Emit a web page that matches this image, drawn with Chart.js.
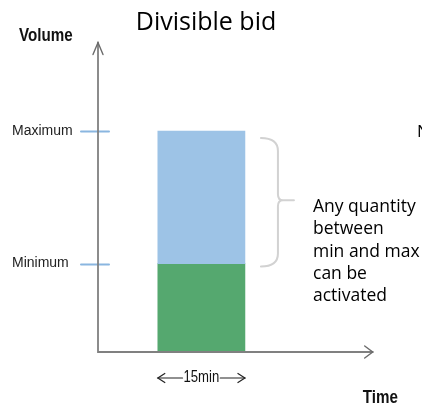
<!DOCTYPE html>
<html>
<head>
<meta charset="utf-8">
<script src="https://cdn.jsdelivr.net/npm/chart.js@4/dist/chart.umd.min.js"></script>
<style>
  html, body { margin: 0; padding: 0; background: #ffffff; }
  #wrap { width: 422px; height: 406px; position: relative; }
</style>
</head>
<body>
<div id="wrap"><canvas id="bid" width="422" height="406"></canvas></div>
<script>
// Volume levels of the bid (arbitrary volume units)
const volumeTickValues = [2, 5];
const volumeTickLabels = ['Minimum', 'Maximum'];
const minimumVolume = 2;
const maximumVolume = 5;
const volumeAxisMax = 7;

// Delivery period on the time axis, in minutes
const periodCentre = 17.8;
const periodLength = 15;
const timeAxisEnd = 47.3;
const timeScaleMax = 52;
const periodLabel = '15min';

const noteLines = ['Any quantity', 'between', 'min and max', 'can be', 'activated'];

const ARIAL = "'Liberation Sans', Arial, sans-serif";
const SANS = "'Open Sans', 'Noto Sans', sans-serif";

function segment(ctx, x1, y1, x2, y2) {
  ctx.beginPath();
  ctx.moveTo(x1, y1);
  ctx.lineTo(x2, y2);
  ctx.stroke();
}

// Horizontally condensed text
function narrowText(ctx, text, x, y, align) {
  ctx.save();
  ctx.translate(x, y);
  ctx.scale(0.82, 1);
  ctx.textAlign = align;
  ctx.fillText(text, 0, 0);
  const w = ctx.measureText(text).width * 0.82;
  ctx.restore();
  return w;
}

// Axes with arrows, level markers, brace, note and period dimension
const bidSketch = {
  id: 'bidSketch',
  afterDatasetsDraw(chart) {
    const { ctx, scales: { x, y } } = chart;
    const x0 = x.getPixelForValue(0);
    const y0 = y.getPixelForValue(0);
    const yTop = y.getPixelForValue(volumeAxisMax);
    const xEnd = x.getPixelForValue(timeAxisEnd);
    const pMax = y.getPixelForValue(maximumVolume);
    const pMin = y.getPixelForValue(minimumVolume);
    const bar = chart.getDatasetMeta(0).data[0];
    const barLeft = bar.x - bar.width / 2;
    const barRight = bar.x + bar.width / 2;

    ctx.save();
    ctx.lineCap = 'round';

    // level markers crossing the volume axis
    ctx.strokeStyle = '#8AB6E0';
    ctx.lineWidth = 2;
    volumeTickValues.forEach(v => {
      const py = Math.round(y.getPixelForValue(v)) + 0.5;
      segment(ctx, x0 - 17, py, x0 + 11, py);
    });

    // axes
    ctx.strokeStyle = '#808080';
    ctx.lineWidth = 1.8;
    ctx.beginPath();
    ctx.moveTo(x0, yTop);
    ctx.lineTo(x0, y0);
    ctx.lineTo(xEnd, y0);
    ctx.stroke();
    ctx.strokeStyle = '#6b6b6b';
    ctx.lineWidth = 1.4;
    ctx.beginPath();
    ctx.moveTo(x0 - 5, yTop + 12);
    ctx.lineTo(x0, yTop);
    ctx.lineTo(x0 + 5, yTop + 12);
    ctx.stroke();
    ctx.beginPath();
    ctx.moveTo(xEnd - 8, y0 - 6);
    ctx.lineTo(xEnd, y0);
    ctx.lineTo(xEnd - 8, y0 + 6);
    ctx.stroke();

    // axis names
    ctx.fillStyle = '#111111';
    ctx.font = 'bold 18.5px ' + ARIAL;
    ctx.textBaseline = 'alphabetic';
    narrowText(ctx, 'Volume', 19, 41, 'left');
    narrowText(ctx, 'Time', xEnd - 10, 403, 'left');

    // brace spanning the activable range
    const top = pMax + 7;
    const bottom = pMin + 3;
    const mid = (top + bottom) / 2 - 2;
    const bl = barRight + 16;
    const bx = barRight + 33;
    ctx.strokeStyle = '#d2d2d2';
    ctx.lineWidth = 2;
    ctx.beginPath();
    ctx.moveTo(bl, top);
    ctx.quadraticCurveTo(bx, top, bx, top + 13);
    ctx.lineTo(bx, mid - 6);
    ctx.quadraticCurveTo(bx, mid, bx + 5, mid);
    ctx.lineTo(bx + 16, mid);
    ctx.moveTo(bx + 5, mid);
    ctx.quadraticCurveTo(bx, mid, bx, mid + 6);
    ctx.lineTo(bx, bottom - 13);
    ctx.quadraticCurveTo(bx, bottom, bl, bottom);
    ctx.stroke();

    // note text
    ctx.fillStyle = '#000000';
    ctx.textAlign = 'left';
    ctx.font = '17.5px ' + SANS;
    noteLines.forEach((t, i) => ctx.fillText(t, 313, 212 + i * 22.3));

    // clipped neighbouring caption
    ctx.font = '17px ' + SANS;
    ctx.fillText('N', 417, 137);

    // period dimension under the bar
    const dy = 378;
    ctx.font = '16px ' + ARIAL;
    ctx.textBaseline = 'middle';
    ctx.fillStyle = '#111111';
    const tw = narrowText(ctx, periodLabel, bar.x, dy, 'center');
    ctx.strokeStyle = '#222222';
    ctx.lineWidth = 1.2;
    segment(ctx, barLeft, dy, bar.x - tw / 2 - 1, dy);
    segment(ctx, bar.x + tw / 2 + 1, dy, barRight, dy);
    ctx.beginPath();
    ctx.moveTo(barLeft + 7, dy - 4.5);
    ctx.lineTo(barLeft, dy);
    ctx.lineTo(barLeft + 7, dy + 4.5);
    ctx.stroke();
    ctx.beginPath();
    ctx.moveTo(barRight - 7, dy - 4.5);
    ctx.lineTo(barRight, dy);
    ctx.lineTo(barRight - 7, dy + 4.5);
    ctx.stroke();

    ctx.restore();
  }
};

new Chart(document.getElementById('bid'), {
  type: 'bar',
  data: {
    datasets: [
      {
        label: 'Activable range',
        data: [{ x: periodCentre, y: [minimumVolume, maximumVolume] }],
        backgroundColor: '#9DC3E6',
        borderWidth: 0,
        categoryPercentage: 1,
        barPercentage: 1
      },
      {
        label: 'Minimum',
        data: [{ x: periodCentre, y: [0, minimumVolume] }],
        backgroundColor: '#55A86F',
        borderWidth: 0,
        categoryPercentage: 1,
        barPercentage: 1
      }
    ]
  },
  options: {
    responsive: false,
    animation: false,
    layout: { padding: { top: 8, left: 12, right: 22, bottom: 54 } },
    plugins: {
      legend: { display: false },
      tooltip: { enabled: false },
      title: {
        display: true,
        text: 'Divisible bid',
        color: '#000000',
        font: { family: SANS, size: 25, weight: 'normal', lineHeight: 1.2 },
        padding: { top: 0, bottom: 4.6 }
      }
    },
    scales: {
      x: {
        type: 'linear',
        stacked: true,
        offset: false,
        min: 0,
        max: timeScaleMax,
        ticks: { display: false, stepSize: periodLength, includeBounds: false },
        grid: { display: false, offset: false },
        border: { display: false },
        afterFit: s => { s.height = 0; }
      },
      y: {
        min: 0,
        max: volumeAxisMax,
        afterBuildTicks: s => { s.ticks = volumeTickValues.map(v => ({ value: v })); },
        ticks: {
          crossAlign: 'far',
          color: '#222222',
          font: { family: ARIAL, size: 14 },
          callback: v => volumeTickLabels[volumeTickValues.indexOf(v)]
        },
        grid: { display: false },
        border: { display: false },
        afterFit: s => { s.width = 86; }
      }
    }
  },
  plugins: [bidSketch]
});
</script>
</body>
</html>
